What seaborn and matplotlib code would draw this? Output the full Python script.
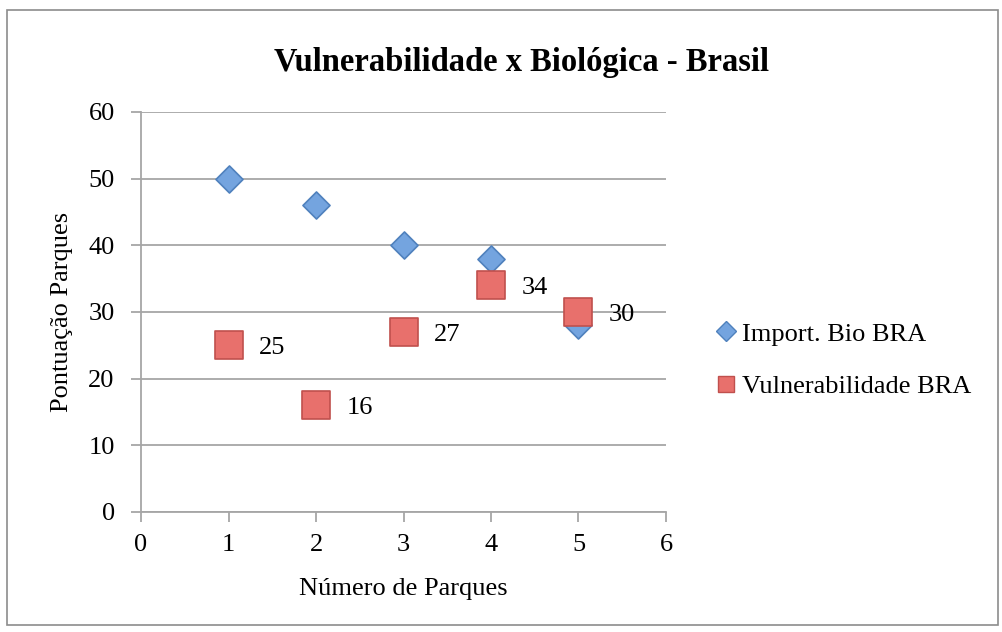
import pandas as pd
import matplotlib.pyplot as plt
import seaborn as sns
from matplotlib.lines import Line2D
from matplotlib.patches import Rectangle

# ------------------ Data ------------------
parques = [1, 2, 3, 4, 5]
import_bio = [50, 46, 40, 38, 28]
vulnerabilidade = [25, 16, 27, 34, 30]
series_names = ["Import. Bio BRA", "Vulnerabilidade BRA"]

df = pd.DataFrame({"Parques": parques, "Bio": import_bio, "Vul": vulnerabilidade})

sns.set_style("white")
plt.rcParams['font.family'] = ['Liberation Serif', 'DejaVu Serif']
plt.rcParams['text.color'] = 'black'
plt.rcParams['axes.labelcolor'] = 'black'

fig = plt.figure(figsize=(10.03, 6.32), dpi=100)
ax = fig.add_axes([0.1406, 0.1899, 0.5234, 0.6329])

blue_face, blue_edge = "#74a4df", "#4f81bd"
red_face, red_edge = "#e8706c", "#c0504d"

sns.scatterplot(data=df, x="Parques", y="Bio", marker="D", s=190,
                color=blue_face, edgecolor=blue_edge, linewidth=1.2, ax=ax, zorder=3)
sns.scatterplot(data=df, x="Parques", y="Vul", marker="s", s=380,
                color=red_face, edgecolor=red_edge, linewidth=1.2, ax=ax, zorder=4)

# data labels for vulnerabilidade
for x, y in zip(parques, vulnerabilidade):
    ax.annotate(str(y), (x, y), xytext=(22, -2), textcoords="offset points",
                ha="left", va="center", fontsize=19, zorder=5)

ax.set_xlim(0, 6)
ax.set_ylim(0, 60)
ax.set_xticks(range(0, 7))
ax.set_yticks(range(0, 61, 10))
ax.yaxis.grid(True, color="#a6a6a6", linewidth=1.3)
ax.xaxis.grid(False)
for side in ["top", "right"]:
    ax.spines[side].set_visible(False)
for side in ["left", "bottom"]:
    ax.spines[side].set_color("#a6a6a6")
    ax.spines[side].set_linewidth(1.3)
ax.tick_params(axis="both", which="both", direction="out", length=7, width=1.3,
               color="#a6a6a6", labelcolor="black", labelsize=19, bottom=True, left=True)
ax.tick_params(axis="y", pad=12)
ax.tick_params(axis="x", pad=9)

ax.set_xlabel("Número de Parques", fontsize=19)
ax.xaxis.set_label_coords(0.5, -0.165)
ax.set_ylabel("Pontuação Parques", fontsize=19)
ax.yaxis.set_label_coords(-0.13, 0.5)
fig.suptitle("Vulnerabilidade x Biológica - Brasil", fontsize=23.5, fontweight="bold",
             x=0.52, y=0.925)

handles = [
    Line2D([], [], linestyle="none", marker="D", markersize=10,
           markerfacecolor=blue_face, markeredgecolor=blue_edge),
    Line2D([], [], linestyle="none", marker="s", markersize=12,
           markerfacecolor=red_face, markeredgecolor=red_edge),
]
fig.legend(handles, series_names, loc="center left", bbox_to_anchor=(0.70, 0.43),
           frameon=False, fontsize=19, handletextpad=0.1, handlelength=1.0,
           labelspacing=1.1, borderaxespad=0)

# outer chart border
fig.patches.append(Rectangle((0.007, 0.011), 0.988, 0.973, transform=fig.transFigure,
                             fill=False, edgecolor="#8c8c8c", linewidth=1.2))

fig.savefig("out.png", dpi=100)
